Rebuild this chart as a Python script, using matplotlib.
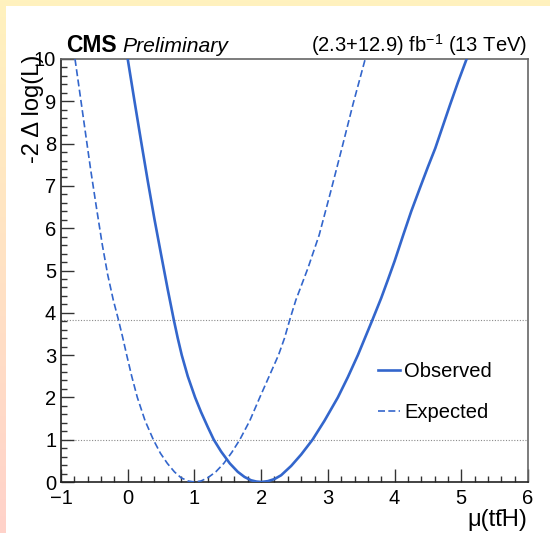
import numpy as np
import matplotlib
matplotlib.use("Agg")
import matplotlib.pyplot as plt
from matplotlib.patches import Rectangle
from matplotlib.ticker import MultipleLocator

# ---- Data ----
obs_mu = [0.00, 0.10, 0.20, 0.30, 0.40, 0.50, 0.60, 0.69, 0.75, 0.81, 0.90,
          1.01, 1.10, 1.20, 1.29, 1.40, 1.53, 1.65, 1.75, 1.85, 1.93, 2.00,
          2.10, 2.20, 2.30, 2.45, 2.60, 2.77, 2.95, 3.15, 3.30, 3.45, 3.56,
          3.67, 3.80, 3.90, 4.00, 4.13, 4.25, 4.38, 4.50, 4.61, 4.72, 4.83,
          4.95, 5.08]
obs_nll = [10.0, 9.02, 8.06, 7.12, 6.22, 5.38, 4.55, 3.84, 3.40, 3.00, 2.50,
           2.00, 1.65, 1.30, 1.00, 0.72, 0.44, 0.24, 0.12, 0.04, 0.01, 0.00,
           0.02, 0.07, 0.16, 0.38, 0.65, 1.00, 1.45, 2.00, 2.48, 3.00, 3.42,
           3.84, 4.35, 4.78, 5.22, 5.84, 6.40, 6.95, 7.45, 7.89, 8.40, 8.91,
           9.45, 10.0]

exp_mu = [-0.79, -0.70, -0.60, -0.555, -0.47, -0.38, -0.30, -0.216, -0.14, -0.08,
          -0.015, 0.06, 0.144, 0.26, 0.384, 0.49, 0.594, 0.70, 0.80, 0.90, 1.00,
          1.10, 1.20, 1.32, 1.44, 1.56, 1.68, 1.83, 1.98, 2.12, 2.26, 2.35,
          2.43, 2.52, 2.70, 2.87, 3.04, 3.21, 3.38, 3.56]
exp_nll = [10.0, 9.00, 7.88, 7.38, 6.50, 5.60, 4.90, 4.30, 3.84, 3.45,
           3.00, 2.50, 2.00, 1.45, 1.00, 0.68, 0.44, 0.24, 0.10, 0.025, 0.00,
           0.025, 0.10, 0.24, 0.44, 0.70, 1.00, 1.45, 2.00, 2.50, 3.00, 3.40,
           3.84, 4.30, 5.05, 5.84, 6.85, 7.89, 8.95, 10.0]

ref_levels = [1.0, 3.84]
x_range = (-1, 6)
y_range = (0, 10)

plt.rcParams["font.family"] = ["Liberation Sans", "DejaVu Sans"]
plt.rcParams["mathtext.fontset"] = "custom"
plt.rcParams["mathtext.rm"] = "Liberation Sans"
plt.rcParams["mathtext.it"] = "Liberation Sans:italic"
plt.rcParams["mathtext.bf"] = "Liberation Sans:bold"

W, H = 550, 533
fig = plt.figure(figsize=(W / 100, H / 100), dpi=100)

# ---- framed background (yellow -> pink strip on top/left) ----
bg = fig.add_axes([0, 0, 1, 1], zorder=-10)
grad = np.linspace(0, 1, 256)[:, None]
top_c = np.array([255, 242, 190]) / 255
bot_c = np.array([255, 210, 202]) / 255
img = (1 - grad)[..., None] * top_c + grad[..., None] * bot_c
img = np.repeat(img, 2, axis=1)
bg.imshow(img, aspect="auto", extent=[0, 1, 0, 1])
bg.add_patch(Rectangle((6 / W, 0), 1 - 6 / W, 1 - 6 / H, color="white", lw=0))
bg.set_xlim(0, 1)
bg.set_ylim(0, 1)
bg.axis("off")

ax = fig.add_axes([61 / W, 1 - 482 / H, (528 - 61) / W, (482 - 59) / H])
ax.set_facecolor("white")

blue = "#3366cc"
for lvl in ref_levels:
    ax.axhline(lvl, color="#8a8a8a", lw=0.8, ls=(0, (1, 1.5)), zorder=1)

ax.plot(obs_mu, obs_nll, color=blue, lw=1.9, label="Observed", zorder=3,
        solid_joinstyle="round")
ax.plot(exp_mu, exp_nll, color=blue, lw=1.2, ls=(0, (4.2, 2.0)), label="Expected", zorder=3)

ax.set_xlim(*x_range)
ax.set_ylim(*y_range)

ax.xaxis.set_major_locator(MultipleLocator(1))
ax.xaxis.set_minor_locator(MultipleLocator(0.2))
ax.yaxis.set_major_locator(MultipleLocator(1))
ax.yaxis.set_minor_locator(MultipleLocator(0.2))
ax.tick_params(which="both", direction="in", top=False, right=False, color="#333333")
ax.tick_params(which="major", length=9.5, width=1.0, labelsize=14.5)
ax.tick_params(which="minor", length=4.5, width=1.0)
ax.tick_params(axis="x", which="major", pad=5)
ax.tick_params(axis="y", which="major", pad=3.5)

for side in ["left", "bottom"]:
    ax.spines[side].set_color("#222222")
    ax.spines[side].set_linewidth(1.2)
for side in ["right", "top"]:
    ax.spines[side].set_color("#666666")
    ax.spines[side].set_linewidth(1.2)

# ---- axis titles ----
fig.text(33 / W, 1 - 55 / H, "-2 Δ log(L)", rotation=90, ha="center", va="top", fontsize=17)
fig.text(527 / W, 1 - 520 / H, "μ(tt\u0304H)", ha="right", va="center", fontsize=17)

# ---- header ----
fig.text(66 / W, 1 - 52 / H, "CMS", fontweight="bold", fontsize=16.5, ha="left", va="baseline")
fig.text(122 / W, 1 - 52 / H, "Preliminary", fontstyle="italic", fontsize=15.2, ha="left", va="baseline")
fig.text(527 / W, 1 - 52 / H, r"(2.3+12.9) fb$^{\mathrm{-1}}$ (13 TeV)", fontsize=14.5,
         ha="right", va="baseline")

# ---- legend ----
ax.legend(loc="center left", bbox_to_anchor=(378 / W, 1 - 392 / H), bbox_transform=fig.transFigure,
          frameon=False, fontsize=14.5, handlelength=1.1, handletextpad=0.2,
          borderpad=0, borderaxespad=0, labelspacing=1.05)

fig.savefig("out.png", dpi=100)
